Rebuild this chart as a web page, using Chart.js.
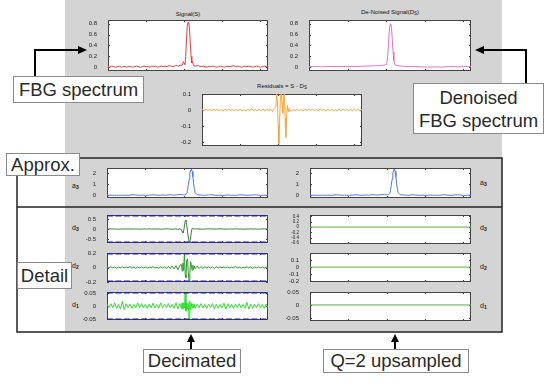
<!DOCTYPE html>
<html>
<head>
<meta charset="utf-8">
<script src="https://cdn.jsdelivr.net/npm/chart.js@4.4.0/dist/chart.umd.min.js"></script>
<style>
  body { margin:0; width:550px; height:383px; position:relative; background:#fff; overflow:hidden;
         font-family:"Liberation Sans", Arial, sans-serif; }
  .gray { position:absolute; left:65px; top:0; width:437px; height:332px; background:#d4d4d4; }
  .pl { position:absolute; }
  .ttl { position:absolute; font-size:6px; color:#111; transform:translateX(-50%); white-space:nowrap; line-height:7px; }
  .ttl sub { font-size:4.5px; vertical-align:-1px; }
  .lab { position:absolute; font-size:7px; color:#111; line-height:8px; }
  .lab sub { font-size:5px; font-weight:bold; vertical-align:-1px; }
  .note { position:absolute; background:#fff; border:1px solid #8a8a8a; box-sizing:border-box; color:#2a2a2a;
          font-size:18.5px; text-align:center; white-space:nowrap; }
  svg { position:absolute; left:0; top:0; }
</style>
</head>
<body>
<div class="gray"></div>
<svg width="550" height="383">
  <g stroke="#222" stroke-width="1.5" fill="none">
    <rect x="17" y="158" width="485" height="174"/>
    <line x1="17" y1="207" x2="502" y2="207"/>
  </g>
</svg>

<div class="ttl" style="left:188px;top:11px">Signal(S)</div>
<div class="ttl" style="left:390px;top:9px">De-Noised Signal(D<sub>S</sub>)</div>
<div class="ttl" style="left:282px;top:83px">Residuals = S - D<sub>S</sub></div>

<div class="lab" style="left:72px;top:182px">a<sub>3</sub></div>
<div class="lab" style="left:480px;top:179px">a<sub>3</sub></div>
<div class="lab" style="left:72px;top:224px">d<sub>3</sub></div>
<div class="lab" style="left:72px;top:262px">d<sub>2</sub></div>
<div class="lab" style="left:72px;top:301px">d<sub>1</sub></div>
<div class="lab" style="left:480px;top:224px">d<sub>3</sub></div>
<div class="lab" style="left:480px;top:263px">d<sub>2</sub></div>
<div class="lab" style="left:480px;top:302px">d<sub>1</sub></div>

<div id="plots"></div>

<div class="note" style="left:13px;top:76px;width:131px;height:27px;line-height:25px">FBG spectrum</div>
<div class="note" style="left:413px;top:83px;width:131px;height:51px;line-height:23px;padding-top:2px">Denoised<br>FBG spectrum</div>
<div class="note" style="left:6px;top:153px;width:74px;height:23px;line-height:21px">Approx.</div>
<div class="note" style="left:17px;top:262px;width:55px;height:27px;line-height:25px">Detail</div>
<div class="note" style="left:143px;top:349px;width:98px;height:24px;line-height:22px">Decimated</div>
<div class="note" style="left:323px;top:349px;width:146px;height:24px;line-height:22px">Q=2 upsampled</div>

<svg width="550" height="383">
  <g stroke="#000" stroke-width="2" fill="none">
    <path d="M35,76 V50 H80"/>
    <path d="M526,83 V50 H482"/>
    <path d="M191,349 V341"/>
    <path d="M395,349 V341"/>
  </g>
  <g fill="#000">
    <polygon points="78,46 87,50 78,54"/>
    <polygon points="484,46 475,50 484,54"/>
    <polygon points="187,342 191,334 195,342"/>
    <polygon points="391,342 395,334 399,342"/>
  </g>
</svg>

<script>
// sample positions (index along the spectrum)
const xs = [0,5,10,15,20,25,30,35,40,45,50,55,60,65,70,75,80,85,90,95,100,105,110,115,120,125,130,135,140,145,150,155,160,165,170,175,180,185,190,
  194,196,198,200,202,204,206,208,210,212,214,216,218,220,222,224,226,228,230,
  235,240,245,250,255,260,265,270,275,280,285,290,295,300,305,310,315,320,325,330,335,340,345,350,355,360,365,370,375,380,385,390,395,400,405,410,415,420];

const sigS = [0.01,0.00,0.02,0.01,0.00,0.01,0.02,0.00,0.01,0.01,0.00,0.02,0.01,0.00,0.01,0.02,0.01,0.00,0.01,0.02,
  0.01,0.01,0.00,0.02,0.01,0.02,0.00,0.01,0.02,0.01,0.02,0.01,0.03,0.02,0.01,0.02,0.03,0.02,0.04,
  0.03,0.06,0.10,0.07,0.05,0.20,0.50,0.75,0.83,0.82,0.70,0.45,0.20,0.08,0.10,0.05,0.02,0.03,0.02,
  0.03,0.02,0.01,0.02,0.01,0.00,0.02,0.01,0.02,0.01,0.00,0.01,0.02,0.01,0.00,0.01,0.02,0.01,0.02,0.03,
  0.01,0.02,0.01,0.00,0.01,0.02,0.01,0.02,0.01,0.00,0.01,0.02,0.01,0.00,0.01,0.02,0.01,0.01];

const sigDS = [0.01,0.01,0.01,0.012,0.012,0.01,0.008,0.008,0.01,0.012,0.014,0.014,0.012,0.01,0.01,0.012,0.015,0.015,0.013,0.012,
  0.012,0.013,0.015,0.016,0.015,0.014,0.014,0.016,0.018,0.02,0.02,0.022,0.024,0.025,0.026,0.028,0.03,0.032,0.035,
  0.038,0.04,0.045,0.05,0.09,0.2,0.42,0.65,0.78,0.8,0.72,0.5,0.28,0.12,0.06,0.04,0.035,0.03,0.028,
  0.025,0.02,0.018,0.015,0.012,0.01,0.01,0.012,0.012,0.01,0.008,0.006,0.005,0.004,0.003,0.003,0.004,0.005,0.006,0.005,
  0.004,0.004,0.005,0.006,0.008,0.01,0.01,0.012,0.012,0.01,0.008,0.008,0.01,0.012,0.012,0.01,0.01,0.01];

const resid = [0.004,-0.006,0.007,-0.004,0.006,-0.007,0.005,-0.003,0.007,-0.006,0.003,-0.007,0.006,-0.005,0.007,-0.003,0.005,-0.007,0.006,-0.005,
  0.007,-0.006,0.003,-0.007,0.006,-0.003,0.007,-0.006,0.005,-0.007,0.006,-0.005,0.007,-0.006,0.008,-0.007,0.008,-0.01,0.012,
  0.02,0.1,0.05,-0.1,-0.21,-0.05,0.08,0.1,0.05,-0.02,0.09,0.1,-0.05,-0.17,-0.05,0.03,-0.01,0.01,-0.005,
  -0.007,0.006,-0.005,0.007,-0.006,0.003,-0.007,0.006,-0.005,0.007,-0.003,0.006,-0.007,0.005,-0.006,0.007,-0.003,0.005,-0.007,0.006,
  -0.005,0.007,-0.006,0.003,-0.007,0.006,-0.005,0.007,-0.003,0.006,-0.007,0.005,-0.006,0.007,-0.003,0.005,-0.006,0.004];

const approxA3 = [0,0,0.01,0,0,-0.01,0,0.01,0,0,0,0,0.01,0.03,0.05,0.03,0.01,0,0,0.01,
  0,0,0.01,0.03,0.05,0.03,0.01,0,0.01,0.03,0.02,0.01,0.03,0.05,0.03,0.02,0.03,0.05,0.07,
  0.05,0.05,0.05,0.05,0.05,0.06,0.08,0.15,0.45,0.9,1.45,1.95,2.3,2.4,2.2,1.7,1.1,0.55,0.25,
  0.06,0.03,0.02,0.01,0,0.01,0.03,0.05,0.03,0.01,0,0,0.01,0,0,0.01,0.02,0.01,0,0,
  0,0.01,0.03,0.05,0.03,0.01,0,0,0.01,0.03,0.05,0.03,0.01,0,0,0,0,0];

const detD3 = [0,0,0.01,0,0,0,-0.01,0,0,0,0,0.01,0,0,0,0,0,-0.01,0,0,
  0,0,0.01,0,0,0,0,0,-0.01,0,0,0.01,0,0,-0.01,0,0.01,-0.02,0.01,
  -0.03,-0.12,-0.2,-0.1,0.15,0.4,0.45,0.2,-0.1,-0.4,-0.62,-0.68,-0.45,-0.15,0.03,0.04,0.01,0,0,
  0.01,0,0,-0.01,0,0,0.01,0,0,0,0,0,0.01,0,0,-0.01,0,0,0,0,
  0.01,0,0,0,-0.01,0,0,0,0.01,0,0,0,-0.01,0,0,0.01,0,0];

const detD2 = [0.008,-0.006,0.01,-0.004,0.007,-0.01,0.004,-0.007,0.01,-0.006,0.007,-0.004,0.012,-0.007,0.008,-0.012,0.007,-0.004,0.01,-0.007,
  0.008,-0.01,0.007,-0.006,0.012,-0.008,0.004,-0.01,0.007,-0.006,0.012,-0.012,0.015,-0.015,0.02,-0.02,0.025,-0.03,0.03,
  0.04,-0.05,0.06,-0.04,0.2,-0.1,-0.14,0.1,0.12,-0.06,-0.2,-0.08,0.08,0.04,-0.04,0.03,-0.025,0.02,-0.015,
  0.02,-0.015,0.012,-0.01,0.008,-0.007,0.01,-0.007,0.008,-0.012,0.01,-0.007,0.008,-0.004,0.01,-0.007,0.008,-0.01,0.007,-0.006,
  0.012,-0.007,0.008,-0.01,0.004,-0.007,0.01,-0.007,0.008,-0.012,0.007,-0.006,0.01,-0.004,0.007,-0.01,0.007,-0.006];

const detD1 = [0.007,-0.006,0.009,-0.007,0.012,-0.009,0.006,-0.012,0.018,-0.014,0.009,-0.006,0.007,-0.009,0.006,-0.007,0.012,-0.006,0.009,-0.007,
  0.006,-0.009,0.007,-0.006,0.011,-0.007,0.006,-0.009,0.012,-0.006,0.007,-0.006,0.009,-0.007,0.006,-0.009,0.012,-0.011,0.009,
  -0.009,0.012,-0.012,0.01,-0.008,0.05,-0.02,0.015,-0.012,0.01,-0.05,0.02,-0.015,0.01,-0.008,0.009,-0.007,0.006,-0.009,
  0.007,-0.006,0.009,-0.007,0.006,-0.009,0.007,-0.006,0.009,-0.012,0.007,-0.009,0.006,-0.007,0.011,-0.012,0.009,-0.007,0.006,-0.009,
  0.007,-0.006,0.009,-0.007,0.006,-0.009,0.014,-0.012,0.007,-0.009,0.007,-0.006,0.009,-0.007,0.006,-0.009,0.007,-0.006];

// upsampled details are all zero
const upX = [0, 420];
const upD3 = [0, 0];
const upD2 = [0, 0];
const upD1 = [0, 0];

// threshold levels (dashed lines)
const thrD3 = [0.7, -0.7];
const thrD2 = [0.2, -0.2];
const thrD1 = [0.054, -0.054];

const xTicks = [100, 200, 300, 400];
const sigTicks = [0, 0.2, 0.4, 0.6, 0.8];
const resTicks = [-0.2, -0.1, 0, 0.1];
const a3Ticks = [0, 1, 2];
const d3Ticks = [-0.5, 0, 0.5];
const d2Ticks = [-0.2, 0, 0.2];
const d1Ticks = [-0.05, 0, 0.05];
const upD3Ticks = [-0.6, -0.4, -0.2, 0, 0.2, 0.4];
const upD2Ticks = [-0.2, -0.1, 0, 0.1];
const upD1Ticks = [-0.05, 0, 0.05];

const frame = {
  id: 'frame',
  beforeDatasetsDraw(c) {
    const a = c.chartArea, g = c.ctx, sx = c.scales.x, sy = c.scales.y;
    g.save();
    g.fillStyle = '#fff';
    g.fillRect(a.left, a.top, a.width, a.height);
    g.strokeStyle = '#444';
    g.lineWidth = 1;
    g.strokeRect(Math.round(a.left) + 0.5, Math.round(a.top) + 0.5, Math.round(a.width) - 1, Math.round(a.height) - 1);
    g.beginPath();
    sx.ticks.forEach(t => {
      const p = Math.round(sx.getPixelForValue(t.value)) + 0.5;
      g.moveTo(p, a.bottom); g.lineTo(p, a.bottom - 2);
      g.moveTo(p, a.top); g.lineTo(p, a.top + 2);
    });
    sy.ticks.forEach(t => {
      const p = Math.round(sy.getPixelForValue(t.value)) + 0.5;
      g.moveTo(a.left, p); g.lineTo(a.left + 2, p);
      g.moveTo(a.right, p); g.lineTo(a.right - 2, p);
    });
    g.stroke();
    g.restore();
  }
};

function series(xv, yv, color, width, dash) {
  return {
    data: xv.map((x, i) => ({ x: x, y: yv[i] })),
    borderColor: color, borderWidth: width || 1, borderDash: dash || [],
    pointRadius: 0, tension: 0, fill: false
  };
}

function thresholds(levels) {
  return levels.map(v => series(upX, [v, v], '#2323a8', 3, [6, 2.5]));
}

function plot(L, T, W, H, showX, yMin, yMax, yTicks, datasets, tickSize) {
  const xh = showX ? 9 : 0;
  const padB = showX ? 0 : 4;
  const box = document.createElement('div');
  box.className = 'pl';
  box.style.left = (L - 24) + 'px';
  box.style.top = (T - 4) + 'px';
  box.style.width = (W + 32) + 'px';
  box.style.height = (H + 4 + xh + padB) + 'px';
  const cv = document.createElement('canvas');
  box.appendChild(cv);
  document.getElementById('plots').appendChild(box);
  new Chart(cv, {
    type: 'line',
    data: { datasets: datasets },
    options: {
      animation: false, responsive: true, maintainAspectRatio: false, devicePixelRatio: 1, events: [],
      layout: { padding: { left: 0, top: 4, right: 8, bottom: padB } },
      plugins: { legend: { display: false }, tooltip: { enabled: false } },
      scales: {
        x: {
          type: 'linear', min: 0, max: 420,
          afterBuildTicks: s => { s.ticks = xTicks.map(v => ({ value: v })); },
          afterFit: s => { s.height = xh; s.paddingLeft = 0; s.paddingRight = 0; },
          grid: { display: false }, border: { display: false },
          ticks: { display: showX, font: { size: 6 }, color: '#222', padding: 1, maxRotation: 0, autoSkip: false,
                   callback: v => String(v) }
        },
        y: {
          type: 'linear', min: yMin, max: yMax,
          afterBuildTicks: s => { s.ticks = yTicks.map(v => ({ value: v })); },
          afterFit: s => { s.width = 24; s.paddingTop = 0; s.paddingBottom = 0; },
          grid: { display: false }, border: { display: false },
          ticks: { font: { size: tickSize || 6 }, color: '#222', padding: 3, autoSkip: false, callback: v => String(v) }
        }
      }
    },
    plugins: [frame]
  });
}

// top panel
plot(108, 20, 160, 51, true, -0.07, 0.87, sigTicks, [series(xs, sigS, '#ee3b3b')]);
plot(309, 20, 162, 51, true, -0.07, 0.87, sigTicks, [series(xs, sigDS, '#e070c8')]);
plot(202, 94, 160, 52, true, -0.225, 0.1, resTicks, [series(xs, resid, '#ffa53a')]);

// approximation
plot(107, 168, 161, 30, false, -0.25, 2.5, a3Ticks, [series(xs, approxA3, '#5577e6')]);
plot(310, 168, 161, 30, false, -0.25, 2.5, a3Ticks, [series(xs, approxA3, '#5577e6')]);

// details, decimated
plot(107, 215, 161, 28, false, -0.7, 0.7, d3Ticks, thresholds(thrD3).concat([series(xs, detD3, '#3f7f3f')]));
plot(107, 253, 161, 29, false, -0.2, 0.2, d2Ticks, thresholds(thrD2).concat([series(xs, detD2, '#2f9a2f')]));
plot(107, 292, 161, 28, true, -0.054, 0.054, d1Ticks, thresholds(thrD1).concat([series(xs, detD1, '#2fdc2f')]));

// details, upsampled
plot(310, 215, 161, 29, false, -0.63, 0.45, upD3Ticks, [series(upX, upD3, '#5ab040')], 4.5);
plot(310, 253, 161, 29, false, -0.21, 0.2, upD2Ticks, [series(upX, upD2, '#5ab040')]);
plot(310, 292, 161, 29, true, -0.062, 0.05, upD1Ticks, [series(upX, upD1, '#5ab040')]);
</script>
</body>
</html>
